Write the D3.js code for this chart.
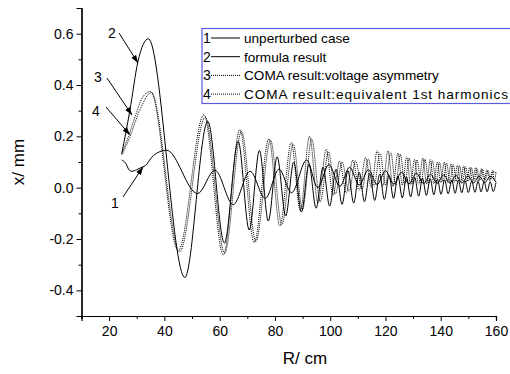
<!DOCTYPE html>
<html>
<head>
<meta charset="utf-8">
<script src="https://cdn.jsdelivr.net/npm/d3@7"></script>
<style>
  body { margin: 0; background: #fff; }
  text { font-family: Arial, "Liberation Sans", sans-serif; fill: #000; }
</style>
</head>
<body>
<svg id="chart" width="510" height="374"></svg>
<script>
// extrema / turning points, [R (cm), x (mm)]
const unperturbed = [
  [24.5,0.108],[26,0.095],[27.3,0.068],[28.2,0.064],[30,0.07],[31.5,0.078],[33,0.085],[36,0.125],[40.8,0.146],
  [52,-0.023],[58.3,0.068],[64.9,-0.066],[71,0.064],[76.5,-0.042],[81.5,0.072],[86,-0.02],[91.5,0.108],
  [95.5,0.0],[99.5,0.09],[103.5,0.005],[107,0.08],[110.5,0.01],[113.8,0.07],[117,0.012],[120,0.066],
  [123,0.014],[125.8,0.06],[128.5,0.015],[131.2,0.056],[133.8,0.016],[136.3,0.052],[138.7,0.017],
  [141,0.05],[143.3,0.018],[145.5,0.048],[147.7,0.018],[149.8,0.046],[151.9,0.019],[153.9,0.045],
  [155.9,0.02],[157.9,0.044],[160,0.022]
];
const formula = [
  [24.5,0.13],[27.5,0.3],[30.4,0.49],[34.2,0.58],[47.4,-0.35],[55.7,0.258],[61.7,-0.216],[66.7,0.18],
  [70.7,-0.165],[74.4,0.145],[77.6,-0.13],[80.8,0.12],[83.9,-0.11],[86.8,0.1],[89.6,-0.095],[92.3,0.09],
  [94.9,-0.08],[97.4,0.08],[99.8,-0.072],[102.1,0.072],[104.3,-0.065],[106.4,0.066],[108.5,-0.06],
  [110.5,0.06],[112.4,-0.055],[114.3,0.056],[116.1,-0.05],[117.9,0.052],[119.6,-0.046],[121.3,0.048],
  [122.9,-0.042],[124.5,0.045],[126.1,-0.04],[127.6,0.042],[129.1,-0.036],[130.6,0.04],[132,-0.033],
  [133.4,0.037],[134.8,-0.03],[136.2,0.035],[137.5,-0.028],[138.8,0.033],[140.1,-0.026],[141.4,0.031],
  [142.7,-0.024],[144,0.03],[145.2,-0.022],[146.4,0.028],[147.6,-0.02],[148.8,0.027],[150,-0.019],
  [151.2,0.026],[152.4,-0.018],[153.5,0.025],[154.6,-0.017],[155.7,0.024],[156.8,-0.016],[157.9,0.023],
  [159,-0.015],[160,0.02]
];
const comaVoltage = [
  [24.8,0.14],[27,0.2],[29.5,0.28],[32,0.35],[35,0.375],[45,-0.245],[54.3,0.284],[61.3,-0.262],
  [67.3,0.226],[72.5,-0.215],[77.8,0.19],[81.8,-0.15],[85.9,0.176],[89.2,-0.09],[92.5,0.2],[95.6,-0.06],
  [98.6,0.15],[101,-0.03],[103.4,0.103],[105.8,-0.02],[108.2,0.107],[110.5,-0.01],[112.8,0.117],
  [114.9,0],[117,0.144],[119,0.005],[120.9,0.144],[122.7,0.005],[124.5,0.135],[126.1,0.01],[127.7,0.12],
  [129.1,0.01],[130.5,0.11],[132,0.012],[133.5,0.115],[134.9,0.015],[136.2,0.11],[137.5,0.015],
  [138.8,0.1],[140,0.018],[141.3,0.1],[142.5,0.02],[143.7,0.092],[144.9,0.02],[146,0.088],[147.2,0.022],
  [148.3,0.085],[149.4,0.022],[150.5,0.08],[151.5,0.024],[152.6,0.078],[153.6,0.025],[154.7,0.074],
  [155.7,0.026],[156.7,0.07],[157.7,0.027],[158.7,0.066],[159.4,0.028],[160,0.06]
];
const comaHarmonic = [
  [24.8,0.13],[27.6,0.2],[31,0.3],[35.3,0.37],[45.5,-0.25],[54.8,0.275],[61.8,-0.255],[67.9,0.22],
  [73.1,-0.21],[78.4,0.185],[82.5,-0.145],[86.6,0.17],[90,-0.085],[93.3,0.19],[96.4,-0.055],[99.4,0.14],
  [101.9,-0.025],[104.3,0.1],[106.8,-0.015],[109.2,0.105],[111.5,-0.005],[113.8,0.112],[115.9,0.005],
  [118,0.135],[120,0.01],[121.9,0.138],[123.7,0.01],[125.4,0.13],[127,0.015],[128.6,0.115],[130,0.015],
  [131.4,0.108],[132.9,0.018],[134.3,0.11],[135.7,0.018],[137,0.105],[138.3,0.02],[139.6,0.098],
  [140.8,0.022],[142.1,0.096],[143.3,0.024],[144.5,0.09],[145.7,0.024],[146.8,0.086],[147.9,0.026],
  [149,0.082],[150.1,0.026],[151.1,0.078],[152.1,0.028],[153.1,0.075],[154.1,0.028],[155.1,0.072],
  [156.1,0.03],[157.1,0.068],[158,0.03],[159,0.064],[160,0.055]
];
const legendLabels = ["unperturbed case", "formula result", "COMA result:voltage asymmetry", "COMA result:equivalent 1st harmonics"];
const xMajor = [20, 40, 60, 80, 100, 120, 140, 160];
const xMinor = [10, 30, 50, 70, 90, 110, 130, 150];
const yMajor = [-0.4, -0.2, 0.0, 0.2, 0.4, 0.6];
const yMinor = [-0.5, -0.3, -0.1, 0.1, 0.3, 0.5, 0.7];

const svg = d3.select("#chart");
svg.append("rect").attr("width", 510).attr("height", 374).attr("fill", "#fff");

const x = d3.scaleLinear().domain([10, 160]).range([81.5, 496]);
const y = d3.scaleLinear().domain([-0.5, 0.7]).range([316, 8]);

// curves
const series = [
  { data: unperturbed, dash: null },
  { data: formula, dash: null },
  { data: comaVoltage, dash: "1,1" },
  { data: comaHarmonic, dash: "1,1" }
];
const line = d3.line().x(d => x(d[0])).y(d => y(d[1])).curve(d3.curveMonotoneX);
series.forEach(s => {
  svg.append("path")
    .attr("d", line(s.data))
    .attr("fill", "none")
    .attr("stroke", "#000")
    .attr("stroke-width", 1)
    .attr("stroke-dasharray", s.dash);
});

// axes
svg.append("g").attr("transform", "translate(81.5,0)")
  .call(d3.axisLeft(y).tickValues(yMajor).tickSize(5).tickPadding(3).tickFormat(d => d.toFixed(1)));
svg.append("g").attr("transform", "translate(81.5,0)")
  .call(d3.axisLeft(y).tickValues(yMinor).tickSize(3).tickFormat(""));
svg.append("g").attr("transform", "translate(0,316)")
  .call(d3.axisBottom(x).tickValues(xMajor).tickSize(5).tickPadding(5).tickFormat(d3.format("d")));
svg.append("g").attr("transform", "translate(0,316)")
  .call(d3.axisBottom(x).tickValues(xMinor).tickSize(3).tickFormat(""));
svg.selectAll(".domain").attr("stroke", "#000").attr("stroke-width", 1.2);
svg.selectAll(".tick line").attr("stroke", "#000");
svg.selectAll(".tick text").attr("font-size", 14).attr("font-family", "Arial, 'Liberation Sans', sans-serif");

svg.append("text").attr("x", 305).attr("y", 364).attr("text-anchor", "middle")
  .attr("font-size", 17).text("R/ cm");
svg.append("text").attr("transform", "translate(24,162) rotate(-90)").attr("text-anchor", "middle")
  .attr("font-size", 17).text("x/ mm");

// legend
const lg = svg.append("g");
lg.append("rect").attr("x", 202).attr("y", 28.5).attr("width", 330).attr("height", 75)
  .attr("fill", "#fff").attr("stroke", "#5a5ae0").attr("stroke-width", 1.2);
legendLabels.forEach((t, i) => {
  const cy = 38 + i * 18.7;
  lg.append("text").attr("x", 203).attr("y", cy + 5).attr("font-size", 14).text(i + 1);
  lg.append("line").attr("x1", 211).attr("x2", 240).attr("y1", cy).attr("y2", cy)
    .attr("stroke", "#000").attr("stroke-width", 1).attr("stroke-dasharray", series[i].dash);
  const tx = lg.append("text").attr("x", 244).attr("y", cy + 5).attr("font-size", 13.6).text(t);
  if (i === 3) tx.attr("textLength", 264).attr("lengthAdjust", "spacing");
});

// annotation arrows
svg.append("defs").append("marker").attr("id", "ah").attr("viewBox", "0 0 10 10")
  .attr("refX", 10).attr("refY", 5).attr("markerWidth", 8).attr("markerHeight", 8)
  .attr("orient", "auto").attr("markerUnits", "userSpaceOnUse")
  .append("path").attr("d", "M0,1.5L10,5L0,8.5z").attr("fill", "#000");
const notes = [
  { label: "2", tx: 112, ty: 38, x1: 119, y1: 33, x2: 138, y2: 63 },
  { label: "3", tx: 98, ty: 82, x1: 107, y1: 78, x2: 132, y2: 115 },
  { label: "4", tx: 96, ty: 116, x1: 106, y1: 107, x2: 130, y2: 135 },
  { label: "1", tx: 115, ty: 208, x1: 123, y1: 197, x2: 143, y2: 167 }
];
notes.forEach(n => {
  svg.append("text").attr("x", n.tx).attr("y", n.ty).attr("text-anchor", "middle")
    .attr("font-size", 14).text(n.label);
  svg.append("line").attr("x1", n.x1).attr("y1", n.y1).attr("x2", n.x2).attr("y2", n.y2)
    .attr("stroke", "#000").attr("stroke-width", 1).attr("marker-end", "url(#ah)");
});
</script>
</body>
</html>
